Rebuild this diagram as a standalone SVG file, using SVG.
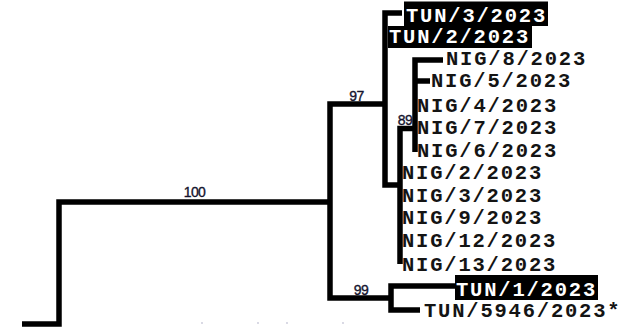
<svg xmlns="http://www.w3.org/2000/svg" width="641" height="327" viewBox="0 0 641 327">
<defs>
<style>
.br{fill:none;stroke:#000;stroke-width:5.5;stroke-linejoin:miter;stroke-linecap:butt}
.lb{font-family:"Liberation Mono","Courier New",monospace;font-weight:bold;font-size:20.5px;letter-spacing:1.8px;fill:#141414}
.lbw{font-family:"Liberation Mono","Courier New",monospace;font-weight:bold;font-size:20.5px;letter-spacing:1.8px;fill:#fff}
.bx{fill:#000}
.bs{font-family:"Liberation Sans",Arial,sans-serif;font-size:14px;letter-spacing:-0.6px;fill:#14142e;stroke:#14142e;stroke-width:0.35;text-anchor:middle}
.dot{fill:#c8c8d8}
</style>
</defs>
<rect width="641" height="327" fill="#fff"/>
<g id="connectors">
<path class="br" d="M22,324 H59 V202 H330"/>
<path class="br" d="M385,104 H330 V298 H391"/>
<path class="br" d="M402,13 H385 V185 H400"/>
<path class="br" d="M415,128.5 H400 V264"/>
<path class="br" d="M443,60 H415 V152"/>
<path class="br" d="M415,81 H430"/>
<path class="br" d="M455,286 H391 V310 H420"/>
</g>
<g id="support">
<text class="bs" x="194.5" y="197">100</text>
<text class="bs" x="356.5" y="101">97</text>
<text class="bs" x="405" y="125">89</text>
<text class="bs" x="361" y="295">99</text>
</g>
<g id="TUN3"><rect class="bx" x="404" y="1.5" width="144" height="24.5"/><text class="lbw" x="406" y="21.5">TUN/3/2023</text></g>
<g id="TUN2"><rect class="bx" x="388" y="26" width="144" height="22"/><text class="lbw" x="389" y="43">TUN/2/2023</text></g>
<g id="NIG8"><text class="lb" x="446" y="65">NIG/8/2023</text></g>
<g id="NIG5"><text class="lb" x="431" y="87">NIG/5/2023</text></g>
<g id="NIG4"><text class="lb" x="417" y="111.5">NIG/4/2023</text></g>
<g id="NIG7"><text class="lb" x="417" y="134">NIG/7/2023</text></g>
<g id="NIG6"><text class="lb" x="417" y="157">NIG/6/2023</text></g>
<g id="NIG2"><text class="lb" x="402" y="178.5">NIG/2/2023</text></g>
<g id="NIG3"><text class="lb" x="402" y="201.5">NIG/3/2023</text></g>
<g id="NIG9"><text class="lb" x="402" y="224">NIG/9/2023</text></g>
<g id="NIG12"><text class="lb" x="402" y="247">NIG/12/2023</text></g>
<g id="NIG13"><text class="lb" x="402" y="270.5">NIG/13/2023</text></g>
<g id="TUN1"><rect class="bx" x="455" y="275" width="143" height="25"/><text class="lbw" x="456" y="295.5">TUN/1/2023</text></g>
<g id="TUN5946"><text class="lb" x="424" y="317">TUN/5946/2023*</text></g>
<g id="ticks">
<circle class="dot" cx="202" cy="323" r="0.9"/>
<circle class="dot" cx="258" cy="323" r="0.9"/>
<circle class="dot" cx="287" cy="323" r="0.9"/>
<circle class="dot" cx="343" cy="323" r="0.9"/>
</g>
</svg>
